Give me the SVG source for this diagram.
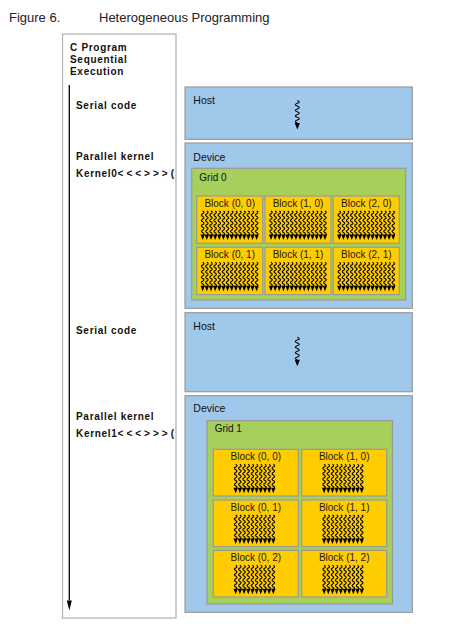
<svg xmlns="http://www.w3.org/2000/svg" width="463" height="631" viewBox="0 0 463 631">
<style>
.title{font-family:"Liberation Sans",Arial,sans-serif;font-size:13px;fill:#222}
.col{font-family:"Liberation Sans",Arial,sans-serif;font-size:10px;font-weight:bold;letter-spacing:0.7px;fill:#111}
.lbl{font-family:"Liberation Sans",Arial,sans-serif;font-size:10.5px;fill:#111}
.glbl{font-family:"Liberation Sans",Arial,sans-serif;font-size:10px;fill:#111}
.blbl{font-family:"Liberation Sans",Arial,sans-serif;font-size:10px;fill:#1a1a1a;text-anchor:middle}
.colbox{fill:#fff;stroke:#b0b0b0;stroke-width:1.2}
.host{fill:#a0c8ea;stroke:#9a9a9a;stroke-width:1.2}
.grid{fill:#a6cf5c;stroke:#9a9a9a;stroke-width:1.2}
.block{fill:#ffcc00;stroke:#9a9a9a;stroke-width:1.2}
.wave{fill:none;stroke:#000;stroke-width:1.1}
</style>
<defs>
<g id="thread"><path class="wave" d="M0,0 q2.5,1.35 0,2.7 t0,2.7 t0,2.7 t0,2.7 t0,2.7 t0,2.7 t0,2.7 t0,2.7 t0,2.7"/><polygon points="-2.2,23.5 2.2,23.5 0,29" fill="#000"/></g>
<g id="hthread"><path class="wave" d="M0,0 q4,1.4 0,2.8 t0,2.8 t0,2.8 t0,2.8 t0,2.8 t0,2.8 t0,2.8 t0,2.8"/><polygon points="-2.6,22.5 2.6,22.5 0,29" fill="#000"/></g>
<g id="row14">
<use href="#thread" x="-27"/><use href="#thread" x="-22.85"/><use href="#thread" x="-18.7"/><use href="#thread" x="-14.55"/><use href="#thread" x="-10.4"/><use href="#thread" x="-6.25"/><use href="#thread" x="-2.1"/><use href="#thread" x="2.05"/><use href="#thread" x="6.2"/><use href="#thread" x="10.35"/><use href="#thread" x="14.5"/><use href="#thread" x="18.65"/><use href="#thread" x="22.8"/><use href="#thread" x="26.95"/>
</g>
<g id="row10">
<use href="#thread" x="-18.8"/><use href="#thread" x="-14.62"/><use href="#thread" x="-10.44"/><use href="#thread" x="-6.26"/><use href="#thread" x="-2.08"/><use href="#thread" x="2.1"/><use href="#thread" x="6.28"/><use href="#thread" x="10.46"/><use href="#thread" x="14.64"/><use href="#thread" x="18.82"/>
</g>
</defs>

<g id="title">
<text class="title" x="9" y="22.3">Figure 6.</text>
<text class="title" x="99" y="22.3">Heterogeneous Programming</text>
</g>

<g id="program-column">
<rect class="colbox" x="62.5" y="34" width="113.5" height="584"/>
<text class="col" x="70" y="50.7">C Program</text>
<text class="col" x="70" y="63">Sequential</text>
<text class="col" x="70" y="75.2">Execution</text>
<text class="col" x="76" y="109">Serial code</text>
<text class="col" x="76" y="160">Parallel kernel</text>
<text class="col" x="76" y="176.7">Kernel0<tspan letter-spacing="3px">&lt;&lt;&lt;&gt;&gt;&gt;</tspan>(</text>
<text class="col" x="76" y="334">Serial code</text>
<text class="col" x="76" y="420">Parallel kernel</text>
<text class="col" x="76" y="436.7">Kernel1<tspan letter-spacing="3px">&lt;&lt;&lt;&gt;&gt;&gt;</tspan>(</text>
</g>

<g id="connectors">
<line x1="69.3" y1="85" x2="69.3" y2="600.5" stroke="#000" stroke-width="1.3"/>
<polygon points="66.8,600.5 71.8,600.5 69.3,610.5" fill="#000"/>
</g>

<g id="host1">
<rect class="host" x="185" y="87" width="227.3" height="52.3"/>
<text class="lbl" x="193.3" y="104">Host</text>
<use href="#hthread" x="297.3" y="100.5"/>
</g>

<g id="device1">
<rect class="host" x="185" y="143" width="227.3" height="165.3"/>
<text class="lbl" x="193.3" y="161">Device</text>
</g>
<g id="grid0">
<rect class="grid" x="191.7" y="168.3" width="214" height="131.7"/>
<text class="glbl" x="199.3" y="180.7">Grid 0</text>
</g>
<g id="g0-block-0-0"><rect class="block" x="196.7" y="196" width="66" height="47.3"/><text class="blbl" x="229.7" y="206.5">Block (0, 0)</text><use href="#row14" x="229.7" y="211"/></g>
<g id="g0-block-1-0"><rect class="block" x="265" y="196" width="66" height="47.3"/><text class="blbl" x="298" y="206.5">Block (1, 0)</text><use href="#row14" x="298" y="211"/></g>
<g id="g0-block-2-0"><rect class="block" x="333.3" y="196" width="66" height="47.3"/><text class="blbl" x="366.3" y="206.5">Block (2, 0)</text><use href="#row14" x="366.3" y="211"/></g>
<g id="g0-block-0-1"><rect class="block" x="196.7" y="247.3" width="66" height="47.3"/><text class="blbl" x="229.7" y="257.8">Block (0, 1)</text><use href="#row14" x="229.7" y="262.3"/></g>
<g id="g0-block-1-1"><rect class="block" x="265" y="247.3" width="66" height="47.3"/><text class="blbl" x="298" y="257.8">Block (1, 1)</text><use href="#row14" x="298" y="262.3"/></g>
<g id="g0-block-2-1"><rect class="block" x="333.3" y="247.3" width="66" height="47.3"/><text class="blbl" x="366.3" y="257.8">Block (2, 1)</text><use href="#row14" x="366.3" y="262.3"/></g>

<g id="host2">
<rect class="host" x="185" y="312.7" width="227.3" height="79"/>
<text class="lbl" x="193.3" y="329.5">Host</text>
<use href="#hthread" x="297.3" y="337.3"/>
</g>

<g id="device2">
<rect class="host" x="185" y="395.7" width="227.3" height="216.6"/>
<text class="lbl" x="193.3" y="412.3">Device</text>
</g>
<g id="grid1">
<rect class="grid" x="207" y="420.7" width="185.5" height="183.3"/>
<text class="glbl" x="214.7" y="432.3">Grid 1</text>
</g>
<g id="g1-block-0-0"><rect class="block" x="213.3" y="449.3" width="85" height="46.7"/><text class="blbl" x="255.8" y="459.8">Block (0, 0)</text><use href="#row10" x="254.5" y="464.3"/></g>
<g id="g1-block-1-0"><rect class="block" x="301.7" y="449.3" width="85" height="46.7"/><text class="blbl" x="344.2" y="459.8">Block (1, 0)</text><use href="#row10" x="342.9" y="464.3"/></g>
<g id="g1-block-0-1"><rect class="block" x="213.3" y="500" width="85" height="46.7"/><text class="blbl" x="255.8" y="510.5">Block (0, 1)</text><use href="#row10" x="254.5" y="515"/></g>
<g id="g1-block-1-1"><rect class="block" x="301.7" y="500" width="85" height="46.7"/><text class="blbl" x="344.2" y="510.5">Block (1, 1)</text><use href="#row10" x="342.9" y="515"/></g>
<g id="g1-block-0-2"><rect class="block" x="213.3" y="550.3" width="85" height="46.7"/><text class="blbl" x="255.8" y="560.8">Block (0, 2)</text><use href="#row10" x="254.5" y="565.3"/></g>
<g id="g1-block-1-2"><rect class="block" x="301.7" y="550.3" width="85" height="46.7"/><text class="blbl" x="344.2" y="560.8">Block (1, 2)</text><use href="#row10" x="342.9" y="565.3"/></g>
</svg>
